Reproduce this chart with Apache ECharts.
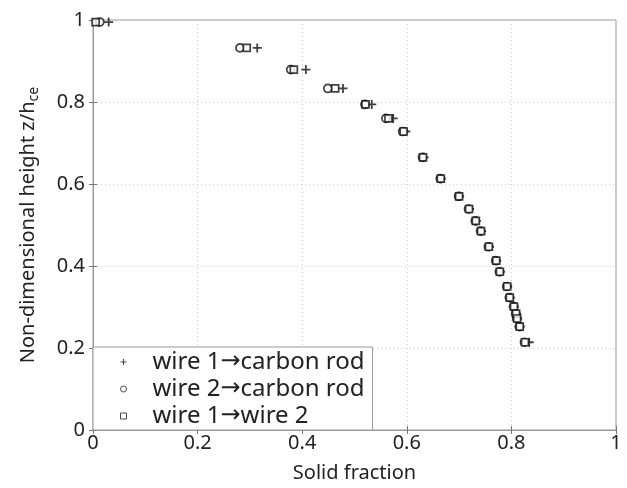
<!DOCTYPE html>
<html>
<head>
<meta charset="utf-8">
<script src="https://cdn.jsdelivr.net/npm/echarts@6/dist/echarts.min.js"></script>
<style>
  html, body { margin: 0; padding: 0; background: #fff; }
</style>
</head>
<body>
<div id="chart" style="width: 627px; height: 488px;"></div>
<script>
// height z/h_ce for each row of markers
let heights = [0.995, 0.932, 0.879, 0.833, 0.794, 0.760, 0.728, 0.665, 0.613, 0.570, 0.539, 0.510, 0.485, 0.447, 0.413, 0.386, 0.350, 0.323, 0.301, 0.284, 0.272, 0.252, 0.214]
// solid fraction per series
let wire1Carbon = [0.030, 0.314, 0.407, 0.478, 0.533, 0.574, 0.598, 0.633, 0.666, 0.701, 0.720, 0.733, 0.743, 0.758, 0.772, 0.779, 0.793, 0.798, 0.806, 0.810, 0.812, 0.817, 0.834]
let wire2Carbon = [0.013, 0.281, 0.378, 0.449, 0.520, 0.560, 0.592, 0.630, 0.664, 0.699, 0.718, 0.731, 0.741, 0.756, 0.770, 0.777, 0.791, 0.796, 0.804, 0.808, 0.810, 0.815, 0.825]
let wire1Wire2 = [0.005, 0.294, 0.384, 0.463, 0.521, 0.565, 0.594, 0.631, 0.665, 0.700, 0.719, 0.732, 0.742, 0.757, 0.771, 0.778, 0.792, 0.797, 0.805, 0.809, 0.811, 0.816, 0.826]
let seriesNames = ['wire 1\u2192carbon rod', 'wire 2\u2192carbon rod', 'wire 1\u2192wire 2']

const font = 'Noto Sans'
const pair = xs => xs.map((x, i) => [x, heights[i]])

let plusPath = 'path://M4,0H6V4H10V6H6V10H4V6H0V4H4Z'
let hollow = { color: '#fff', borderColor: '#111', borderWidth: 1.7 }

let option = {
  backgroundColor: '#fff',
  animation: false,
  grid: { left: 93, right: 11, top: 20, bottom: 56, show: true, borderColor: '#999', borderWidth: 1 },
  legend: {
    orient: 'vertical',
    left: 93,
    top: 347,
    padding: [3, 8, 2, 27],
    itemGap: 3,
    itemWidth: 6,
    itemHeight: 6,
    borderColor: '#999',
    borderWidth: 1,
    backgroundColor: '#fff',
    formatter: name => name.replace('\u2192', '{a|\u2192}'),
    textStyle: {
      fontFamily: font, fontSize: 24, color: '#222', padding: [0, 0, 0, 21],
      rich: { a: { fontFamily: 'DejaVu Sans', fontSize: 24, color: '#222' } }
    },
    data: [
      { name: seriesNames[0], icon: plusPath, itemStyle: { color: '#222', borderWidth: 0 } },
      { name: seriesNames[1], icon: 'circle', itemStyle: { color: '#fff', borderColor: '#222', borderWidth: 1 } },
      { name: seriesNames[2], icon: 'rect', itemStyle: { color: '#fff', borderColor: '#222', borderWidth: 1 } }
    ]
  },
  xAxis: [{
    type: 'value', min: 0, max: 1, interval: 0.2,
    name: 'Solid fraction', nameLocation: 'middle', nameGap: 33,
    nameTextStyle: { fontFamily: font, fontSize: 20, color: '#222' },
    axisLine: { lineStyle: { color: '#999' } },
    axisTick: { inside: true, length: 4, lineStyle: { color: '#777' } },
    axisLabel: { fontFamily: font, fontSize: 20, color: '#222', margin: 3 },
    splitLine: { show: true, lineStyle: { color: '#ccc', type: [1, 3] } }
  }, {
    type: 'value', min: 0, max: 1, interval: 0.2, position: 'top',
    axisLine: { lineStyle: { color: '#999' } },
    axisTick: { inside: true, length: 4, lineStyle: { color: '#777' } },
    axisLabel: { show: false }, splitLine: { show: false }
  }],
  yAxis: [{
    type: 'value', min: 0, max: 1, interval: 0.2,
    name: '{m|Non-dimensional height z/h}{s|ce}', nameLocation: 'middle', nameGap: 52,
    nameTextStyle: {
      rich: {
        m: { fontFamily: font, fontSize: 20, color: '#222' },
        s: { fontFamily: font, fontSize: 14, color: '#222', padding: [11, 0, 0, 0] }
      }
    },
    axisLine: { lineStyle: { color: '#999' } },
    axisTick: { inside: true, length: 4, lineStyle: { color: '#777' } },
    axisLabel: { fontFamily: font, fontSize: 20, color: '#222', margin: 8 },
    splitLine: { show: true, lineStyle: { color: '#ccc', type: [1, 3] } }
  }, {
    type: 'value', min: 0, max: 1, interval: 0.2, position: 'right',
    axisLine: { show: true, lineStyle: { color: '#999' } },
    axisTick: { show: true, inside: true, length: 4, lineStyle: { color: '#777' } },
    axisLabel: { show: false }, splitLine: { show: false }
  }],
  series: [
    {
      name: seriesNames[0], type: 'scatter', data: pair(wire1Carbon),
      symbol: plusPath, symbolSize: 9,
      itemStyle: { color: '#111' }
    },
    {
      name: seriesNames[1], type: 'scatter', data: pair(wire2Carbon),
      symbol: 'circle', symbolSize: 8,
      itemStyle: hollow
    },
    {
      name: seriesNames[2], type: 'scatter', data: pair(wire1Wire2),
      symbol: 'rect', symbolSize: 7,
      itemStyle: hollow
    }
  ]
}

let myChart = echarts.init(document.getElementById('chart'))
myChart.setOption(option)
</script>
</body>
</html>
